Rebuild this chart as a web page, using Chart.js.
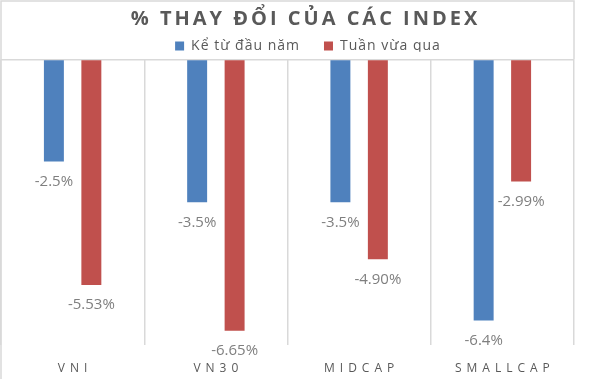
<!DOCTYPE html>
<html><head><meta charset="utf-8">
<script src="https://cdn.jsdelivr.net/npm/chart.js@4/dist/chart.umd.min.js"></script>
<style>html,body{margin:0;padding:0;background:#fff}</style>
</head><body>
<canvas id="c" width="595" height="379"></canvas>
<script>
// ---- data ----
const categories = ['VNI', 'VN30', 'MIDCAP', 'SMALLCAP'];
const seriesNames = ['Kể từ đầu năm', 'Tuần vừa qua'];
const ytdValues = [-2.5, -3.5, -3.5, -6.4];
const weekValues = [-5.53, -6.65, -4.90, -2.99];
const labelDecimals = [1, 2];
const yMin = -7;
const yMax = 0;
const chartTitle = '% THAY ĐỔI CỦA CÁC INDEX';

// ---- styling helpers ----
const TEXT = '#595959';
const GRID = '#d9d9d9';
const FONT = '"Open Sans", "Noto Sans", sans-serif';

function wrapDraw(proto, fn) {
  if (!proto || !proto.draw) return;
  const orig = proto.draw;
  proto.draw = function (...a) {
    const ctx = this.ctx;
    ctx.save();
    fn(ctx);
    orig.apply(this, a);
    ctx.restore();
  };
}
if (Chart.Title && Chart.Title._element) {
  wrapDraw(Chart.Title._element.prototype, ctx => { ctx.translate(18, 7.7); ctx.letterSpacing = '3px'; });
}
if (Chart.Legend && Chart.Legend._element) {
  wrapDraw(Chart.Legend._element.prototype, ctx => { ctx.translate(8, -7.8); ctx.letterSpacing = '1px'; });
}
const origDrawLabels = Chart.CategoryScale.prototype.drawLabels;
Chart.CategoryScale.prototype.drawLabels = function (area) {
  const ctx = this.ctx;
  ctx.save();
  if (this.axis === 'x') { ctx.letterSpacing = '5px'; ctx.translate(2.5, 0); }
  origDrawLabels.call(this, area);
  ctx.restore();
};

const frame = {
  id: 'frame',
  beforeDraw(chart) {
    const ctx = chart.ctx;
    ctx.save();
    ctx.fillStyle = '#fff';
    ctx.fillRect(0, 0, chart.width, chart.height);
    ctx.strokeStyle = GRID;
    ctx.lineWidth = 1.5;
    const r = chart.chartArea.right;
    ctx.beginPath();
    ctx.moveTo(1, chart.height);
    ctx.lineTo(1, 1);
    ctx.lineTo(r, 1);
    ctx.lineTo(r, chart.chartArea.top);
    ctx.stroke();
    ctx.restore();
  }
};

const valueLabels = {
  id: 'valueLabels',
  afterDatasetsDraw(chart) {
    const ctx = chart.ctx;
    ctx.save();
    ctx.font = '15px ' + FONT;
    ctx.fillStyle = '#7f7f7f';
    ctx.textAlign = 'center';
    ctx.textBaseline = 'middle';
    chart.data.datasets.forEach((ds, i) => {
      const meta = chart.getDatasetMeta(i);
      meta.data.forEach((bar, j) => {
        const v = ds.data[j];
        ctx.fillText(v.toFixed(labelDecimals[i]) + '%', bar.x, bar.y + 20);
      });
    });
    ctx.restore();
  }
};

new Chart(document.getElementById('c'), {
  type: 'bar',
  data: {
    labels: categories,
    datasets: [
      { label: seriesNames[0], data: ytdValues, backgroundColor: '#4f81bd', borderColor: '#4f81bd', borderWidth: 0,
        barPercentage: 0.533, categoryPercentage: 0.523 },
      { label: seriesNames[1], data: weekValues, backgroundColor: '#c0504d', borderColor: '#c0504d', borderWidth: 0,
        barPercentage: 0.533, categoryPercentage: 0.523 }
    ]
  },
  options: {
    responsive: false,
    devicePixelRatio: 1,
    animation: false,
    layout: { padding: { left: 1, right: 21, top: 0, bottom: 5 } },
    plugins: {
      title: {
        display: true, text: chartTitle, color: TEXT,
        font: { family: FONT, size: 20, weight: 'bold', lineHeight: 1.14 },
        padding: { top: 0, bottom: 0 }
      },
      legend: {
        position: 'top', align: 'center', maxHeight: 36.7,
        labels: { boxWidth: 9, boxHeight: 9, padding: 24, color: TEXT, font: { family: FONT, size: 14 } }
      },
      tooltip: { enabled: false }
    },
    scales: {
      x: {
        afterFit: s => { s.height = 29; },
        grid: { color: GRID, lineWidth: 1.5, drawTicks: false, offset: true },
        border: { display: false },
        ticks: { color: TEXT, font: { family: FONT, size: 12 }, padding: 16.5, maxRotation: 0, autoSkip: false }
      },
      y: {
        min: yMin, max: yMax,
        ticks: { display: false },
        grid: { drawTicks: false, lineWidth: 1.5, color: c => (c.tick && c.tick.value === 0) ? GRID : 'rgba(0,0,0,0)' },
        border: { display: false }
      }
    }
  },
  plugins: [frame, valueLabels]
});
</script>
</body></html>
